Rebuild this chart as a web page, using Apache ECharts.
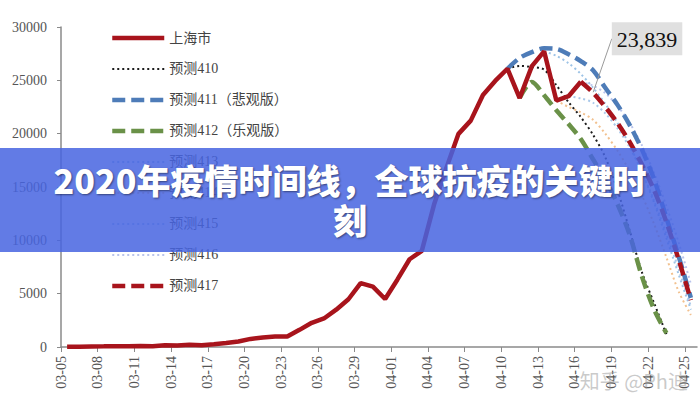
<!DOCTYPE html>
<html><head><meta charset="utf-8">
<script src="https://cdn.jsdelivr.net/npm/echarts@6/dist/echarts.min.js"></script>
<style>
html,body{margin:0;padding:0;background:#fff;}
#wrap{position:relative;width:700px;height:400px;overflow:hidden;}
#chart{width:700px;height:400px;}
#banner{position:absolute;left:0;top:148px;width:700px;height:104px;background:rgba(70,100,225,0.85);display:flex;align-items:center;justify-content:center;}
#banner h1{margin:0;width:610px;text-align:center;color:#fff;font-family:"Noto Sans CJK SC";font-weight:900;font-size:34px;line-height:40px;text-shadow:1px 1px 2px rgba(0,0,0,0.45);}
</style></head>
<body><div id="wrap"><div id="chart"></div><div id="banner"><h1>2020年疫情时间线，全球抗疫的关键时刻</h1></div></div>
<script>
const dates = ['03-05','03-06','03-07','03-08','03-09','03-10','03-11','03-12','03-13','03-14','03-15','03-16','03-17','03-18','03-19','03-20','03-21','03-22','03-23','03-24','03-25','03-26','03-27','03-28','03-29','03-30','03-31','04-01','04-02','04-03','04-04','04-05','04-06','04-07','04-08','04-09','04-10','04-11','04-12','04-13','04-14','04-15','04-16','04-17','04-18','04-19','04-20','04-21','04-22','04-23','04-24','04-25'];
const yTicks = [0, 30000, 5000];
const names = ['上海市','预测410','预测411（悲观版）','预测412（乐观版）','预测413','预测414','预测415','预测416','预测417'];

const shanghai = [15,30,50,62,80,76,83,65,169,139,202,158,260,374,509,758,896,981,983,1609,2269,2676,3500,4477,5982,5653,4502,6311,8226,9006,13354,16766,19982,21222,23624,24944,26087,23342,26330,27719,23108,23513,24865];
const f410Start = '04-10';
const f410 = [26087,26350,26250,26000,24550,22950,21550,19900,17800,14700,10900,7000,4100,1200];
const f411Start = '04-10';
const f411 = [26087,27100,27650,28000,27950,27450,26800,25950,24300,22700,20800,18500,15700,12100,8500,4600];
const f412Start = '04-11';
const f412 = [23342,24850,23600,22200,20900,19500,17600,15700,13400,10500,6600,3500,1300];
const f413Start = '04-13';
const f413 = [27719,27300,26600,25600,24300,22800,21000,18900,16400,13500,10200,6800,3500];
const f414Start = '04-14';
const f414 = [23108,22500,22000,21300,20000,18400,16500,14200,11500,8400,5200,3000];
const f415Start = '04-15';
const f415 = [23513,23300,22900,21900,20500,18700,16400,13700,10600,7300,3800];
const f416Start = '04-16';
const f416 = [24865,24500,23800,22600,21000,18900,16300,13200,9800,5900];
const f417Start = '04-16';
const f417 = [24865,23839,22500,21000,19200,17100,14700,11700,8200,4400];
const calloutIndex = 1;

function pts(start, vals){ const s = dates.indexOf(start); return vals.map((v,k)=>[s+k+0.5, v]); }
const tickIdx = dates.map((d,i)=>i).filter(i=>i%3===0);

const serif = 'Liberation Serif';
const DASH = [13,6], DOT = [2,3];
const styles = {
  '上海市': {color:'#a8141c', width:4.5, type:'solid'},
  '预测410': {color:'#1c1c1c', width:2, type:DOT},
  '预测411（悲观版）': {color:'#4e7cb8', width:4.5, type:DASH},
  '预测412（乐观版）': {color:'#6a9148', width:4.5, type:DASH},
  '预测413': {color:'#9dc3e6', width:2, type:DOT},
  '预测414': {color:'#f2c18f', width:2, type:DOT},
  '预测415': {color:'#a9c8ea', width:2, type:DOT},
  '预测416': {color:'#b9c4ec', width:2, type:DOT},
  '预测417': {color:'#a8141c', width:4.5, type:DASH}
};
function mk(name, data, smooth, z){
  const st = styles[name];
  return {name, type:'line', data, symbol:'none', smooth, z, color:st.color,
    lineStyle:{color:st.color, width:st.width, type:st.type}};
}
const d417 = pts(f417Start, f417);
d417[calloutIndex] = {value:d417[calloutIndex], symbolSize:1, label:{show:true}};
const s417 = mk('预测417', d417, 0.3, 8);
s417.symbol = 'circle';
s417.symbolSize = 0;
s417.showSymbol = true;
s417.showAllSymbol = true;
s417.itemStyle = {color:'rgba(0,0,0,0)'};
s417.label = {show:false, position:'top', formatter:p=>p.value[1].toLocaleString('en-US'), backgroundColor:'#e0e0e0', padding:[6,5,5,5], fontFamily:serif, fontSize:22, color:'#111'};
s417.labelLayout = {dx:54, dy:-32};
s417.labelLine = {show:true, lineStyle:{color:'#9a9a9a', width:1}};

const series = [
  mk('预测413', pts(f413Start,f413), 0.3, 2),
  mk('预测414', pts(f414Start,f414), 0.3, 2),
  mk('预测415', pts(f415Start,f415), 0.3, 2),
  mk('预测416', pts(f416Start,f416), 0.3, 2),
  mk('预测410', pts(f410Start,f410), 0.3, 4),
  mk('预测412（乐观版）', pts(f412Start,f412), 0.3, 5),
  mk('预测411（悲观版）', pts(f411Start,f411), 0.3, 6),
  s417,
  mk('上海市', pts('03-05',shanghai), false, 10)
];

const chart = echarts.init(document.getElementById('chart'), null, {renderer:'svg'});
chart.setOption({
  backgroundColor:'#fff',
  animation:false,
  grid:{left:61, right:3, top:27, bottom:53},
  legend:{orient:'vertical', left:105, top:26, itemWidth:52, itemHeight:14, itemGap:17,
    textStyle:{fontFamily:serif+', Noto Sans CJK SC', fontSize:14, color:'#444'},
    data: names.map(n=>({name:n, itemStyle:{color:'rgba(0,0,0,0)', borderColor:'rgba(0,0,0,0)', borderWidth:0, opacity:0},
      lineStyle:{width:styles[n].width, type:styles[n].type, color:styles[n].color}}))},
  xAxis:{type:'value', min:0, max:dates.length, splitLine:{show:false},
    axisLine:{show:true, onZero:false, lineStyle:{color:'#8a8a8a', width:1.5}},
    axisTick:{show:true, length:5, customValues:tickIdx, lineStyle:{color:'#8a8a8a', width:1}},
    axisLabel:{customValues:tickIdx, rotate:90, margin:9, formatter:v=>dates[v], fontFamily:serif, fontSize:14, color:'#555'}},
  yAxis:{type:'value', min:yTicks[0], max:yTicks[1], interval:yTicks[2], splitLine:{show:false},
    axisLine:{show:true, lineStyle:{color:'#8a8a8a', width:1.5}},
    axisTick:{show:true, length:4, lineStyle:{color:'#8a8a8a', width:1}},
    axisLabel:{margin:14, formatter:v=>String(v), fontFamily:serif, fontSize:14, color:'#555'}},
  graphic:[{type:'text', right:12, bottom:10, z:100, style:{text:'知乎 @Ph迪', fill:'rgba(150,150,150,0.5)', font:'20px "Noto Sans CJK SC"'}}],
  series
});
</script>
</body></html>
